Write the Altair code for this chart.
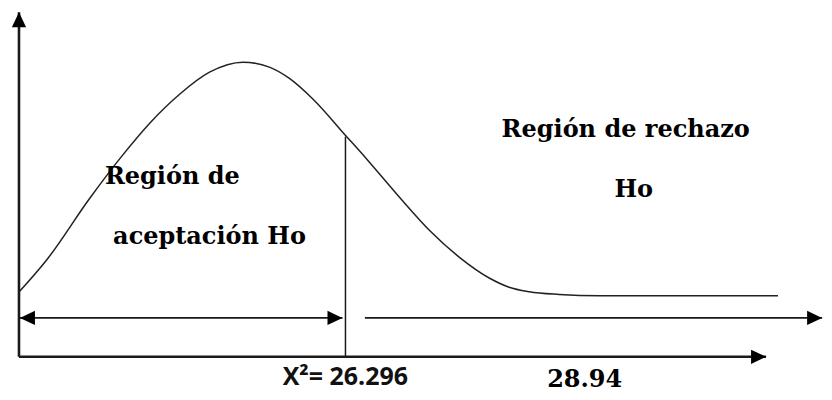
import altair as alt
import pandas as pd

# Schematic chi-square density curve (abstract diagram units: axis origin at 0, arrow tips at 100)
curve_x = [0, 3.7, 9.5, 13.9, 17.5, 21.5, 25.5, 30.0, 33.6, 36.2, 39.3, 43.9, 46.5,
           50.9, 55.0, 59.0, 63.0, 65.6, 68.3, 72.3, 77.7, 101.6]
curve_y = [18.8, 28.1, 46.1, 58.6, 67.8, 76.2, 82.6, 85.5, 84.0, 80.8, 74.9, 63.8, 57.5,
           46.4, 36.6, 28.8, 22.8, 20.2, 18.9, 18.1, 17.7, 17.7]

# Line segments: axes, region arrows, critical value line
seg_name = ["eje_y", "eje_x", "aceptacion", "rechazo", "critico"]
seg_x = [0, 0, 0.13, 46.3, 43.7]
seg_x2 = [0, 100, 43.3, 107.5, 43.7]
seg_y = [0, 0, 11.3, 11.3, 0]
seg_y2 = [100, 0, 11.3, 11.3, 63.9]
seg_w = [2.6, 2.6, 1.8, 1.8, 1.5]

# Arrow heads (tip positions and direction in degrees)
head_x = [0, 100, 0.13, 43.3, 107.5]
head_y = [100, 0, 11.3, 11.3, 11.3]
head_dir = [270, 0, 180, 0, 0]

# Labels
serif_text = ["Región de", "aceptación Ho", "Región de rechazo", "Ho", "28.94"]
serif_x = [11.5, 12.6, 64.6, 79.7, 70.7]
serif_y = [50.1, 32.8, 63.8, 46.4, -8.7]
sans_text = ["X\u00b2= 26.296"]
sans_x = [35.3]
sans_y = [-8.1]

curve_df = pd.DataFrame({"x": curve_x, "y": curve_y})
seg_df = pd.DataFrame({"name": seg_name, "x": seg_x, "x2": seg_x2, "y": seg_y, "y2": seg_y2, "w": seg_w})
head_df = pd.DataFrame({"x": head_x, "y": head_y, "dir": head_dir})
serif_df = pd.DataFrame({"t": serif_text, "x": serif_x, "y": serif_y})
sans_df = pd.DataFrame({"t": sans_text, "x": sans_x, "y": sans_y})

xs = alt.Scale(domain=[-1.47, 107.62], nice=False, zero=False)
ys = alt.Scale(domain=[-10.14, 101.16], nice=False, zero=False)
X = lambda f: alt.X(f, type="quantitative", scale=xs, axis=None)
Y = lambda f: alt.Y(f, type="quantitative", scale=ys, axis=None)

curve = alt.Chart(curve_df).mark_line(color="#222222", strokeWidth=1.5, interpolate="monotone").encode(
    x=X("x"), y=Y("y"), order="x:Q"
)

segs = alt.Chart(seg_df).mark_rule(color="#1a1a1a").encode(
    x=X("x"), x2="x2:Q", y=Y("y"), y2="y2:Q",
    strokeWidth=alt.StrokeWidth("w:Q", scale=None, legend=None),
)

heads = alt.Chart(head_df).mark_point(
    shape="M0,0L-2,-0.95L-2,0.95Z", filled=True, size=225, color="#000000", opacity=1
).encode(
    x=X("x"), y=Y("y"), angle=alt.Angle("dir:Q", scale=None)
)

serif = alt.Chart(serif_df).mark_text(
    font="DejaVu Serif", fontWeight="bold", fontSize=24, align="left",
    baseline="alphabetic", color="#000000"
).encode(x=X("x"), y=Y("y"), text="t:N")

sans = alt.Chart(sans_df).mark_text(
    font="Open Sans", fontWeight="bold", fontSize=25,
    align="left", baseline="alphabetic", color="#111111"
).encode(x=X("x"), y=Y("y"), text="t:N")

chart = alt.layer(curve, segs, heads, serif, sans).properties(
    width=816, height=384, padding=0
).configure_view(stroke=None)

chart.save("out.html", embed_options={"renderer": "svg", "actions": False})
